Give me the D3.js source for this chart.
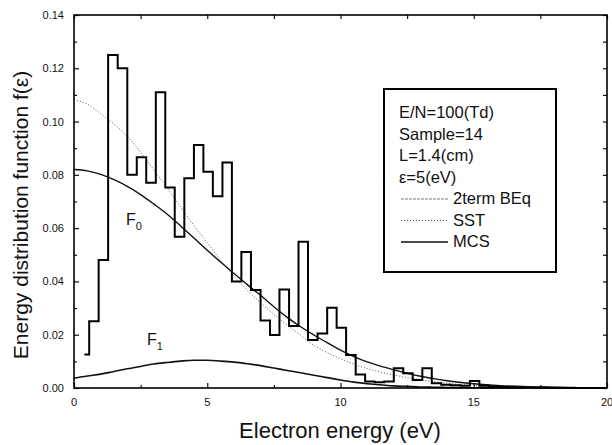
<!DOCTYPE html>
<html>
<head>
<meta charset="utf-8">
<script src="https://cdn.jsdelivr.net/npm/d3@7"></script>
<style>
  body { margin: 0; background: #fff; }
  svg { font-family: "Liberation Sans", Arial, Helvetica, sans-serif; }
</style>
</head>
<body>
<svg width="612" height="445"></svg>
<script>
// MCS histogram, points at bin centres (eV)
const mcsEnergy = [0.39, 0.75, 1.10, 1.46, 1.82, 2.18, 2.53, 2.89, 3.25, 3.60, 3.96, 4.32, 4.68, 5.03,
  5.39, 5.75, 6.10, 6.46, 6.82, 7.18, 7.53, 7.89, 8.25, 8.60, 8.96, 9.32, 9.68, 10.03, 10.39, 10.75,
  11.10, 11.46, 11.82, 12.18, 12.53, 12.89, 13.25, 13.60, 13.96, 14.32, 14.68, 15.03, 15.39, 15.75,
  16.10, 16.46, 16.82, 17.18, 17.53, 17.89, 18.25, 18.60, 18.96, 19.32, 19.68];
const mcsF0 = [0.0126, 0.0251, 0.048, 0.125, 0.120, 0.080, 0.0866, 0.077, 0.111, 0.0753, 0.0568, 0.0787,
  0.0912, 0.0812, 0.072, 0.0846, 0.040, 0.051, 0.0368, 0.0253, 0.0199, 0.037, 0.0233, 0.0549, 0.018,
  0.0205, 0.0301, 0.0226, 0.0124, 0.0051, 0.0024, 0.0022, 0.0024, 0.0074, 0.0055, 0.003, 0.0074, 0.0018,
  0.0012, 0.001, 0.0008, 0.0026, 0.0008, 0.0005, 0.0004, 0.0003, 0.0003, 0.0002, 0.0002, 0.0001, 0.0001,
  0.0001, 0, 0, 0];

// smooth curves
const curveEnergy = [0, 0.5, 1, 1.5, 2, 2.5, 3, 3.5, 4, 4.5, 5, 5.5, 6, 6.5, 7, 7.5, 8, 8.5, 9, 9.5, 10,
  10.5, 11, 11.5, 12, 12.5, 13, 13.5, 14, 15, 16, 17, 18, 19, 20];
const beqF0 = [0.0820, 0.0815, 0.0802, 0.0782, 0.0757, 0.0726, 0.0690, 0.0652, 0.0608, 0.0563, 0.0517,
  0.0473, 0.0430, 0.0388, 0.0348, 0.0305, 0.0265, 0.0230, 0.0199, 0.0170, 0.0142, 0.0118, 0.0098, 0.0082,
  0.0068, 0.0055, 0.0044, 0.0035, 0.0027, 0.0016, 0.0009, 0.0005, 0.0003, 0.0001, 0.0001];
const sstF0 = [0.1082, 0.1065, 0.1030, 0.0990, 0.0945, 0.0885, 0.0818, 0.0750, 0.0680, 0.0610, 0.0545,
  0.0480, 0.0420, 0.0368, 0.0320, 0.0276, 0.0236, 0.0198, 0.0160, 0.0133, 0.0110, 0.0090, 0.0073, 0.0060,
  0.0049, 0.0039, 0.0031, 0.0024, 0.0018, 0.0010, 0.0005, 0.0003, 0.0001, 0, 0];
const beqF1 = [0.0037, 0.0045, 0.0052, 0.0062, 0.0072, 0.0081, 0.0090, 0.0096, 0.0101, 0.0104, 0.0104,
  0.0101, 0.0097, 0.0091, 0.0084, 0.0075, 0.0066, 0.0057, 0.0048, 0.0039, 0.0030, 0.0022, 0.0016, 0.0012,
  0.0008, 0.0006, 0.0004, 0.0003, 0.0002, 0.0001, 0, 0, 0, 0, 0];

const xTicks = [0, 5, 10, 15, 20];
const yTicks = [0, 0.02, 0.04, 0.06, 0.08, 0.10, 0.12, 0.14];
const legendInfo = ['E/N=100(Td)', 'Sample=14', 'L=1.4(cm)', 'ε=5(eV)'];
const legendSeries = ['2term BEq', 'SST', 'MCS'];

const svg = d3.select('svg');
const plotLeft = 74, plotRight = 607, plotTop = 15, plotBottom = 388;

const x = d3.scaleLinear().domain([0, 20]).range([plotLeft, plotRight]);
const y = d3.scaleLinear().domain([0, 0.14]).range([plotBottom, plotTop]);

const plot = svg.append('g');

// curves
const smooth = d3.line()
  .x((d, i) => x(curveEnergy[i]))
  .y(d => y(d))
  .curve(d3.curveMonotoneX);

plot.append('path')
  .attr('d', smooth(sstF0))
  .attr('fill', 'none')
  .attr('stroke', '#555')
  .attr('stroke-width', 1)
  .attr('stroke-dasharray', '1,2');

plot.append('path')
  .attr('d', smooth(beqF0))
  .attr('fill', 'none')
  .attr('stroke', '#111')
  .attr('stroke-width', 1.4);

plot.append('path')
  .attr('d', smooth(beqF1))
  .attr('fill', 'none')
  .attr('stroke', '#111')
  .attr('stroke-width', 1.6);

// histogram
const step = d3.line()
  .x((d, i) => x(mcsEnergy[i]))
  .y(d => y(d))
  .curve(d3.curveStep);

plot.append('path')
  .attr('d', step(mcsF0))
  .attr('fill', 'none')
  .attr('stroke', '#000')
  .attr('stroke-width', 2);

// axes, ticks pointing inward on all four sides
const axes = svg.append('g').attr('font-size', 11).attr('fill', '#111');

axes.append('g')
  .attr('transform', `translate(0,${plotBottom})`)
  .call(d3.axisBottom(x).tickValues(d3.range(0, 20.1, 2.5)).tickSize(-4).tickFormat(''))
  .call(g => g.selectAll('.tick line').attr('y2', (d) => d % 5 === 0 ? -5 : -3));
axes.append('g')
  .attr('transform', `translate(0,${plotTop})`)
  .call(d3.axisTop(x).tickValues(d3.range(0, 20.1, 2.5)).tickSize(-4).tickFormat(''));
axes.append('g')
  .attr('transform', `translate(${plotLeft},0)`)
  .call(d3.axisLeft(y).ticks(14).tickSize(-4).tickFormat(''))
  .call(g => g.selectAll('.tick line').attr('x2', (d) => Math.round(d * 100) % 2 === 0 ? 5 : 3));
axes.append('g')
  .attr('transform', `translate(${plotRight},0)`)
  .call(d3.axisRight(y).ticks(14).tickSize(-4).tickFormat(''));

axes.selectAll('.domain').remove();
axes.selectAll('.tick line').attr('stroke', '#111').attr('stroke-width', 1.2);

svg.append('rect')
  .attr('x', plotLeft).attr('y', plotTop)
  .attr('width', plotRight - plotLeft).attr('height', plotBottom - plotTop)
  .attr('fill', 'none')
  .attr('stroke', '#000')
  .attr('stroke-width', 1.6);

axes.selectAll('text.xlab')
  .data(xTicks)
  .enter().append('text')
  .attr('class', 'xlab')
  .attr('x', d => x(d))
  .attr('y', plotBottom + 18)
  .attr('text-anchor', 'middle')
  .text(d => d);

axes.selectAll('text.ylab')
  .data(yTicks)
  .enter().append('text')
  .attr('class', 'ylab')
  .attr('x', plotLeft - 10)
  .attr('y', d => y(d) + 4)
  .attr('text-anchor', 'end')
  .text(d => d3.format('.2f')(d));

// axis titles
svg.append('text')
  .attr('x', 340)
  .attr('y', 438)
  .attr('text-anchor', 'middle')
  .attr('font-size', 22)
  .attr('fill', '#111')
  .text('Electron energy (eV)');

svg.append('text')
  .attr('transform', 'translate(28,215) rotate(-90)')
  .attr('text-anchor', 'middle')
  .attr('font-size', 21)
  .attr('fill', '#111')
  .text('Energy distribution function f(ε)');

// curve labels
const f0 = svg.append('text').attr('x', 126).attr('y', 225).attr('font-size', 16).attr('fill', '#111');
f0.append('tspan').text('F');
f0.append('tspan').attr('dy', 5).attr('font-size', 11).text('0');
const f1 = svg.append('text').attr('x', 147).attr('y', 345).attr('font-size', 16).attr('fill', '#111');
f1.append('tspan').text('F');
f1.append('tspan').attr('dy', 5).attr('font-size', 11).text('1');

// legend
const legend = svg.append('g').attr('font-size', 16.5).attr('fill', '#111');
legend.append('rect')
  .attr('x', 384).attr('y', 89)
  .attr('width', 172).attr('height', 183)
  .attr('fill', '#fff')
  .attr('stroke', '#000')
  .attr('stroke-width', 2);

legendInfo.forEach((t, i) => {
  legend.append('text').attr('x', 399).attr('y', 118 + i * 21.5).text(t);
});

const styles = [
  { stroke: '#777', width: 1, dash: '3,1' },
  { stroke: '#555', width: 1, dash: '1,2' },
  { stroke: '#111', width: 1.4, dash: null }
];
legendSeries.forEach((t, i) => {
  const ly = 118 + (i + 4) * 21.5;
  legend.append('line')
    .attr('x1', 401).attr('x2', 448)
    .attr('y1', ly - 5).attr('y2', ly - 5)
    .attr('stroke', styles[i].stroke)
    .attr('stroke-width', styles[i].width)
    .attr('stroke-dasharray', styles[i].dash);
  legend.append('text').attr('x', 453).attr('y', ly).text(t);
});
</script>
</body>
</html>
